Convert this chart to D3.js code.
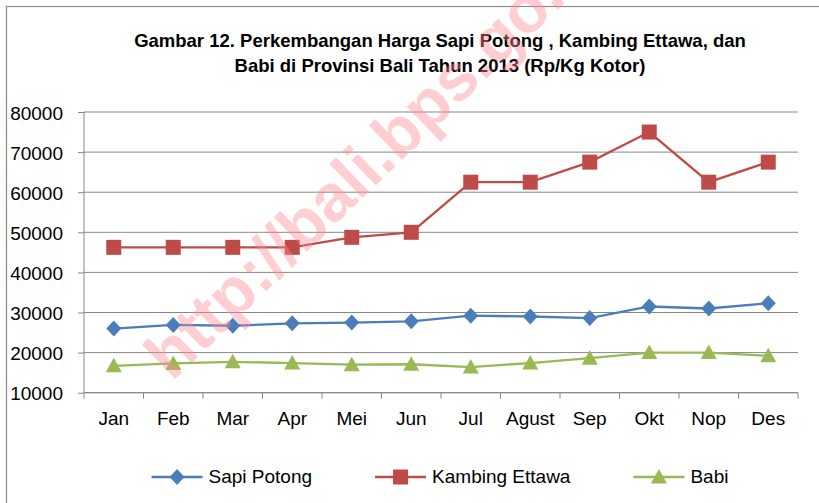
<!DOCTYPE html>
<html lang="id">
<head>
<meta charset="utf-8">
<title>Harga Sapi Potong, Kambing Ettawa, Babi - Bali 2013</title>
<script src="https://cdnjs.cloudflare.com/ajax/libs/d3/7.8.5/d3.min.js"></script>
<style>
body { margin: 0; background: #fff; }
#chart svg { display: block; font-family: "Liberation Sans", Arial, sans-serif; }
.grid line { stroke: #878787; stroke-width: 1; }
.axis path, .axis line { stroke: #878787; stroke-width: 1; }
.axis text { fill: #000; font-size: 19px; }
</style>
</head>
<body>
<div id="chart"></div>
<script>

// data (Rp/Kg)
var months = ["Jan", "Feb", "Mar", "Apr", "Mei", "Jun", "Jul", "Agust", "Sep", "Okt", "Nop", "Des"];
var sapiPotong = [26000, 26900, 26700, 27300, 27500, 27800, 29200, 29000, 28600, 31500, 31000, 32300];
var kambingEttawa = [46250, 46250, 46250, 46250, 48750, 50000, 62500, 62500, 67500, 75000, 62500, 67500];
var babi = [16700, 17300, 17700, 17400, 17000, 17100, 16400, 17400, 18600, 20000, 20000, 19200];
var yTicks = [10000, 20000, 30000, 40000, 50000, 60000, 70000, 80000];
var titleLines = ["Gambar 12. Perkembangan Harga Sapi Potong , Kambing Ettawa, dan",
                  "Babi di Provinsi Bali Tahun 2013 (Rp/Kg Kotor)"];

var series = [
    {name: "Sapi Potong", values: sapiPotong, color: "#4a7ebb", symbol: "diamond"},
    {name: "Kambing Ettawa", values: kambingEttawa, color: "#be4b48", symbol: "square"},
    {name: "Babi", values: babi, color: "#98b954", symbol: "triangle"}
];

var width = 819, height = 503;
var plot = {left: 84, right: 798, top: 112, bottom: 392.7};

var svg = d3.select("#chart").append("svg")
    .attr("width", width)
    .attr("height", height);

// outer frame of the chart area (cropped on the right and bottom)
svg.append("rect")
    .attr("x", 6.5).attr("y", 6.5)
    .attr("width", 900).attr("height", 600)
    .attr("fill", "#fff")
    .attr("stroke", "#8c8c8c")
    .attr("stroke-width", 1.2);

svg.append("g").selectAll("text")
    .data(titleLines)
    .enter().append("text")
        .attr("x", 440)
        .attr("y", (d, i) => 47 + i * 24.5)
        .attr("text-anchor", "middle")
        .style("font-size", "18.5px")
        .style("font-weight", "bold")
        .text(d => d);

var x = d3.scaleBand().domain(months).range([plot.left, plot.right]);
var y = d3.scaleLinear().domain([10000, 80000]).range([plot.bottom, plot.top]);

svg.append("g")
    .attr("class", "grid")
    .selectAll("line")
    .data(yTicks)
    .enter().append("line")
        .attr("x1", plot.left).attr("x2", plot.right)
        .attr("y1", d => y(d)).attr("y2", d => y(d));

var yAxis = svg.append("g")
    .attr("class", "axis")
    .attr("transform", "translate(" + plot.left + ",0)")
    .call(d3.axisLeft(y).tickValues(yTicks).tickFormat(d3.format("d")).tickSize(6).tickPadding(15));
yAxis.select(".domain").attr("d", "M0," + plot.top + "V" + plot.bottom);
yAxis.selectAll("text").attr("dy", "0.37em");

// category axis: ticks sit between the months
var xAxis = svg.append("g")
    .attr("class", "axis")
    .attr("transform", "translate(0," + plot.bottom + ")")
    .call(d3.axisBottom(x).tickSize(0).tickPadding(20));
xAxis.select(".domain").attr("d", "M" + plot.left + ",0H" + plot.right);
xAxis.selectAll("text").attr("dy", "0.71em").attr("y", 19);
xAxis.append("g").selectAll("line")
    .data(months.concat(["end"]))
    .enter().append("line")
        .attr("x1", (d, i) => i < months.length ? x(d) : plot.right)
        .attr("x2", (d, i) => i < months.length ? x(d) : plot.right)
        .attr("y1", 0).attr("y2", 6);

function symbolPath(symbol) {
    if (symbol === "diamond") return "M0,-8L7.5,0L0,8L-7.5,0Z";
    if (symbol === "square") return "M-7.5,-7.5H7.5V7.5H-7.5Z";
    return "M0,-8L8,6.5H-8Z";
}

var line = d3.line()
    .x((d, i) => x(months[i]) + x.bandwidth() / 2)
    .y(d => y(d));

var groups = svg.append("g").selectAll(".series")
    .data(series)
    .enter().append("g")
        .attr("class", "series");

groups.append("path")
    .attr("d", d => line(d.values))
    .attr("fill", "none")
    .attr("stroke", d => d.color)
    .attr("stroke-width", 2.3);

groups.each(function(s) {
    d3.select(this).selectAll(".point")
        .data(s.values)
        .enter().append("path")
            .attr("class", "point")
            .attr("transform", (d, i) => "translate(" + (x(months[i]) + x.bandwidth() / 2) + "," + y(d) + ")")
            .attr("d", symbolPath(s.symbol))
            .attr("fill", s.color);
});

// legend, centred under the plot
var legend = svg.append("g").attr("class", "legend");
var items = legend.selectAll(".item")
    .data(series)
    .enter().append("g")
        .attr("class", "item");
items.append("line")
    .attr("x1", 0).attr("x2", 51)
    .attr("y1", 0).attr("y2", 0)
    .attr("stroke", d => d.color)
    .attr("stroke-width", 2.3);
items.append("path")
    .attr("transform", "translate(25.5,0)")
    .attr("d", d => symbolPath(d.symbol))
    .attr("fill", d => d.color);
items.append("text")
    .attr("x", 57)
    .attr("y", 5.5)
    .style("font-size", "19px")
    .text(d => d.name);

var offsets = [], pos = 0;
items.each(function() {
    offsets.push(pos);
    pos += 57 + this.querySelector("text").getComputedTextLength() + 63;
});
var total = pos - 63;
items.attr("transform", (d, i) => "translate(" + (440 - total / 2 + offsets[i]) + ",477)");

// watermark over the picture
svg.append("text")
    .attr("transform", "translate(172,382) rotate(-44)")
    .style("font-size", "66px")
    .style("font-weight", "bold")
    .attr("fill", "#ff8a96")
    .attr("fill-opacity", 0.42)
    .text("http://bali.bps.go.id");

</script>
</body>
</html>
